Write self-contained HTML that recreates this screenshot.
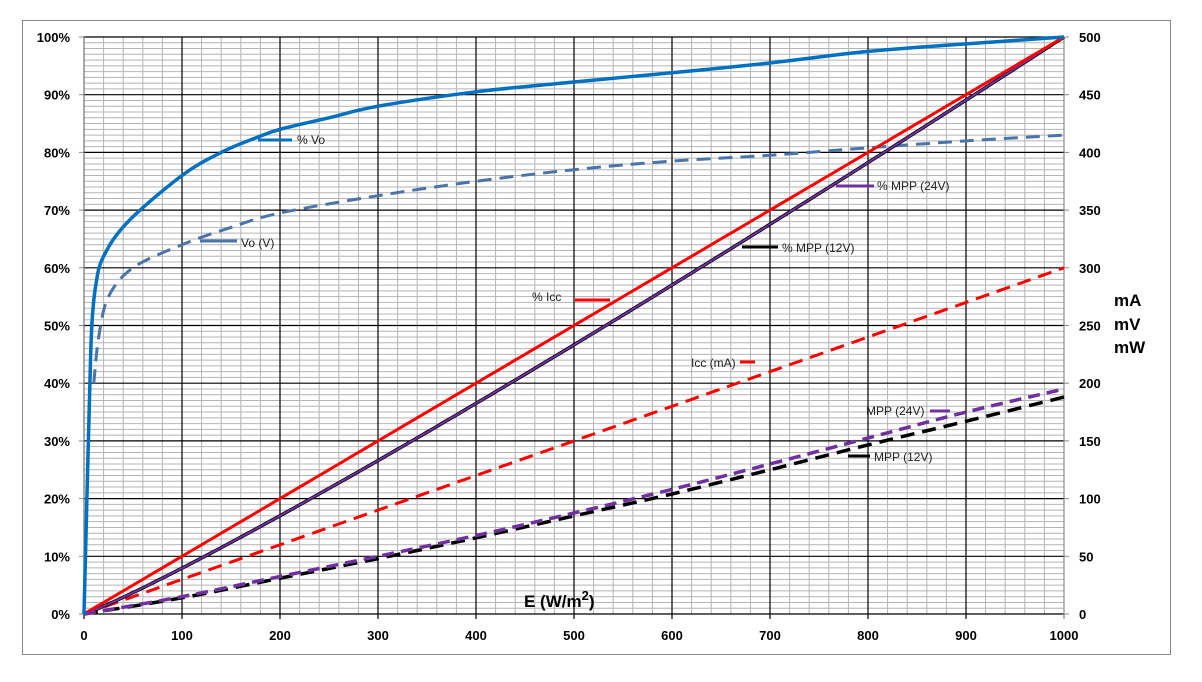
<!DOCTYPE html>
<html><head><meta charset="utf-8"><style>
html,body{margin:0;padding:0;background:#fff;}
svg{display:block;font-family:"Liberation Sans",Arial,sans-serif;}
.t{font-size:13px;font-weight:bold;fill:#000;}
.l{font-size:12px;fill:#222;}
</style></head><body>
<svg id="s" width="1202" height="682" viewBox="0 0 1202 682" xmlns="http://www.w3.org/2000/svg">
<rect x="0" y="0" width="1202" height="682" fill="#fff"/>
<rect x="22.5" y="20.5" width="1148" height="634" fill="none" stroke="#888" stroke-width="1"/>
<g id="grid"></g>
<g id="series"></g>
<text x="524" y="607" style="font-size:17px;font-weight:bold">E (W/m<tspan dy="-7" style="font-size:13px">2</tspan><tspan dy="7">)</tspan></text>
<text x="1114" y="306" style="font-size:17px;font-weight:bold">mA</text>
<text x="1114" y="330" style="font-size:17px;font-weight:bold">mV</text>
<text x="1114" y="353" style="font-size:17px;font-weight:bold">mW</text>
<text x="297" y="144" class="l">% Vo</text>
<text x="241" y="247" class="l">Vo (V)</text>
<text x="532" y="301" class="l">% Icc</text>
<text x="691" y="367" class="l">Icc (mA)</text>
<text x="877" y="190" class="l">% MPP (24V)</text>
<text x="782" y="252" class="l">% MPP (12V)</text>
<text x="866" y="415" class="l">MPP (24V)</text>
<text x="874" y="461" class="l">MPP (12V)</text>
</svg>
<script>
var X0=84,X1=1064,Y0=614,Y1=37;
function px(x){return X0+(X1-X0)*x/1000;}
function py(y){return Y0-(Y0-Y1)*y/100;}
var NS="http://www.w3.org/2000/svg";
function el(p,n,a){var e=document.createElementNS(NS,n);for(var k in a)e.setAttribute(k,a[k]);p.appendChild(e);return e;}
var g=document.getElementById("grid");
for(var i=0;i<=100;i++){if(i%10)el(g,"line",{x1:X0,x2:X1,y1:py(i),y2:py(i),stroke:"#b4b4b4","stroke-width":1});}
for(var i=0;i<=50;i++){if(i%5)el(g,"line",{x1:px(i*20),x2:px(i*20),y1:Y1,y2:Y0,stroke:"#b4b4b4","stroke-width":1});}
for(var i=0;i<=10;i++){el(g,"line",{x1:X0,x2:X1,y1:py(i*10),y2:py(i*10),stroke:"#000","stroke-width":1.2});
 el(g,"line",{x1:px(i*100),x2:px(i*100),y1:Y1,y2:Y0+5,stroke:i==10?"#888":"#000","stroke-width":1.2});
 el(g,"line",{x1:X0-5,x2:X0,y1:py(i*10),y2:py(i*10),stroke:"#888"});
 el(g,"line",{x1:X1,x2:X1+5,y1:py(i*10),y2:py(i*10),stroke:"#888"});
 var t=el(g,"text",{x:X0-14,y:py(i*10)+5,"class":"t","text-anchor":"end"});t.textContent=(i*10)+"%";
 t=el(g,"text",{x:X1+15,y:py(i*10)+5,"class":"t"});t.textContent=i*50;
 t=el(g,"text",{x:px(i*100),y:640,"class":"t","text-anchor":"middle"});t.textContent=i*100;}
el(g,"line",{x1:X0,x2:X0,y1:Y1,y2:Y0,stroke:"#888"});
var s=document.getElementById("series");
function smooth(pts){var P=pts.map(function(p){return [px(p[0]),py(p[1])];});
 var d="M"+P[0][0].toFixed(1)+","+P[0][1].toFixed(1);
 for(var i=0;i<P.length-1;i++){var p0=P[i-1]||P[i],p1=P[i],p2=P[i+1],p3=P[i+2]||p2;
  var c1=[p1[0]+(p2[0]-p0[0])/6,p1[1]+(p2[1]-p0[1])/6],c2=[p2[0]-(p3[0]-p1[0])/6,p2[1]-(p3[1]-p1[1])/6];
  d+="C"+c1[0].toFixed(1)+","+c1[1].toFixed(1)+" "+c2[0].toFixed(1)+","+c2[1].toFixed(1)+" "+p2[0].toFixed(1)+","+p2[1].toFixed(1);}
 return d;}
function path(pts,col,w,dash){var a={d:smooth(pts),fill:"none",stroke:col,"stroke-width":w,"stroke-linejoin":"round"};if(dash)a["stroke-dasharray"]=dash;el(s,"path",a);}
function fn(f){var r=[];for(var x=0;x<=1000;x+=10)r.push([x,f(x)]);return r;}
path([[10,40],[15,48],[25,55],[50,60],[100,64],[150,67],[200,69.5],[300,72.5],[400,75],[500,77],[600,78.5],[700,79.5],[800,80.8],[900,82],[1000,83]],"#4a74aa",3,"14,8");
path(fn(function(x){return 0.6*x/10}),"#f00",3,"14,8");
path(fn(function(x){return 100*Math.pow(x/1000,1.1);}),"#000",3.5);
path(fn(function(x){return 100*Math.pow(x/1000,1.1);}),"#7030a0",2);
path(fn(function(x){return x/10}),"#f00",3);
path([[0,0],[100,2.8],[200,6.2],[300,9.6],[400,13.2],[500,17],[600,20.8],[700,25],[800,29.3],[900,33.4],[1000,37.6]],"#000",3.5,"14,8");
path([[0,0],[100,3],[200,6.5],[300,10],[400,13.6],[500,17.5],[600,21.6],[700,26],[800,30.5],[900,35],[1000,39]],"#7030a0",3.5,"12,7");
path([[0,0],[3,20],[6,40],[8,50],[12,57],[20,62],[45,68],[100,76],[140,80],[175,82.5],[200,84],[250,86],[300,88],[400,90.5],[500,92.2],[600,93.8],[700,95.5],[800,97.5],[900,98.8],[1000,100]],"#0070c0",3.5);
function ln(x1,y1,x2,y2,c){el(s,"line",{x1:x1,y1:y1,x2:x2,y2:y2,stroke:c,"stroke-width":3});}
ln(258,140,292,140,"#0070c0");ln(200,241,237,241,"#4a74aa");ln(575,300,610,300,"#f00");
ln(740,362,755,362,"#f00");ln(836,186,874,186,"#7030a0");ln(742,247,778,247,"#000");
ln(930,411,950,411,"#7030a0");ln(848,456,870,456,"#000");
</script>
</body></html>
